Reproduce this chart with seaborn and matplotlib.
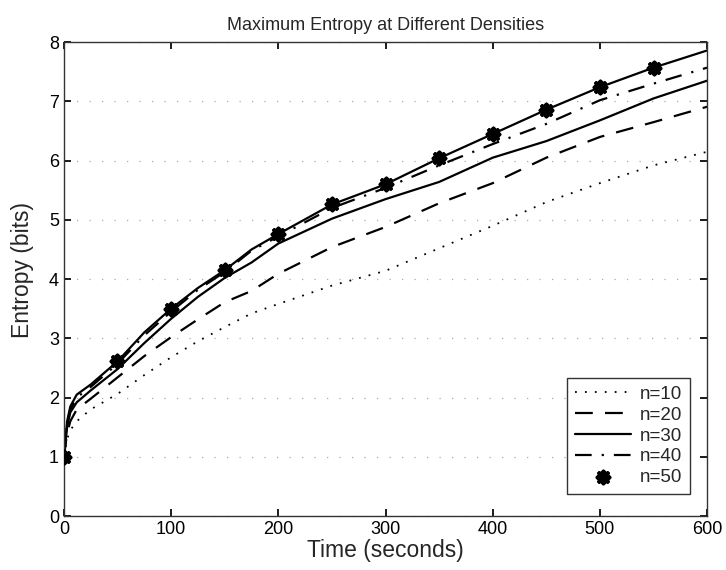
import numpy as np
import pandas as pd
import matplotlib
matplotlib.use("Agg")
import matplotlib.pyplot as plt
import seaborn as sns

time = [0, 3, 6, 12, 25, 50, 75, 100, 125, 150, 175, 200, 250, 300, 350, 400, 450, 500, 550, 600]
n10 = [1, 1.3, 1.45, 1.6, 1.8, 2.06, 2.38, 2.68, 2.95, 3.19, 3.42, 3.58, 3.89, 4.14, 4.52, 4.9, 5.3, 5.62, 5.92, 6.15]
n20 = [1, 1.4, 1.6, 1.8, 1.98, 2.34, 2.7, 3.02, 3.32, 3.61, 3.8, 4.09, 4.54, 4.88, 5.28, 5.62, 6.05, 6.40, 6.65, 6.91]
n30 = [1, 1.5, 1.75, 1.92, 2.12, 2.48, 2.92, 3.33, 3.7, 4.02, 4.28, 4.6, 5.02, 5.35, 5.64, 6.05, 6.33, 6.68, 7.05, 7.35]
n40 = [1, 1.55, 1.8, 2.0, 2.18, 2.57, 3.05, 3.45, 3.82, 4.12, 4.48, 4.72, 5.2, 5.54, 5.92, 6.28, 6.62, 7.02, 7.30, 7.57]
n50 = [1, 1.6, 1.85, 2.05, 2.22, 2.61, 3.1, 3.50, 3.85, 4.15, 4.5, 4.76, 5.26, 5.60, 6.04, 6.45, 6.86, 7.24, 7.57, 7.86]
labels = ["n=10", "n=20", "n=30", "n=40", "n=50"]
x_ticks = [0, 100, 200, 300, 400, 500, 600]
y_ticks = [0, 1, 2, 3, 4, 5, 6, 7, 8]

sns.set_theme(style="white")
plt.rcParams["font.family"] = ["Liberation Sans", "DejaVu Sans"]

fig = plt.figure(figsize=(7.26, 5.70), dpi=100)
ax = fig.add_axes([0.088, 0.0947, 0.886, 0.8313])

df = pd.DataFrame({"time": time, "n=10": n10, "n=20": n20, "n=30": n30, "n=40": n40, "n=50": n50})

styles = {"n=10": (0, (1, 4.5)), "n=20": (0, (8, 5.5)), "n=30": "-", "n=40": (0, (7.5, 4.5, 1, 4.5))}
for lab in labels[:4]:
    sns.lineplot(data=df, x="time", y=lab, ax=ax, color="black", linestyle=styles[lab],
                 linewidth=1.6 if lab != "n=10" else 1.3, label=lab)

sns.lineplot(data=df, x="time", y="n=50", ax=ax, color="black", linewidth=1.6, label="_nolegend_")
mk = df[(df["time"] % 50 == 0) & (df["time"] < 600)]
sns.scatterplot(data=mk, x="time", y="n=50", ax=ax, color="black", marker=(8, 2, 0), s=70,
                edgecolor="black", linewidth=3.0, label="n=50", zorder=5)

ax.set_xlim(0, 600)
ax.set_ylim(0, 8)
ax.set_xticks(x_ticks)
ax.set_yticks(y_ticks)
ax.yaxis.grid(True, linestyle=(0, (1, 9)), color="#aaaaaa", linewidth=0.9)
ax.xaxis.grid(False)
ax.tick_params(direction="in", length=5, top=True, right=True, labelsize=13, colors="black",
               bottom=True, left=True)
for s in ax.spines.values():
    s.set_color("#333333")
    s.set_linewidth(1.0)

ax.set_title("Maximum Entropy at Different Densities", fontsize=13, pad=9)
ax.set_xlabel("Time (seconds)", fontsize=16.5, labelpad=1)
ax.set_ylabel("Entropy (bits)", fontsize=16.5, labelpad=3)
ax.yaxis.set_label_coords(-0.046, 0.52)

leg = ax.legend(loc="lower right", fontsize=13.5, frameon=True, fancybox=False,
                edgecolor="#333333", framealpha=1, handlelength=3.0, handletextpad=0.5,
                borderpad=0.4, labelspacing=0.2, borderaxespad=0.5,
                bbox_to_anchor=(0.988, 0.027))
leg.get_frame().set_linewidth(1.0)

fig.savefig("out.png", dpi=100)
